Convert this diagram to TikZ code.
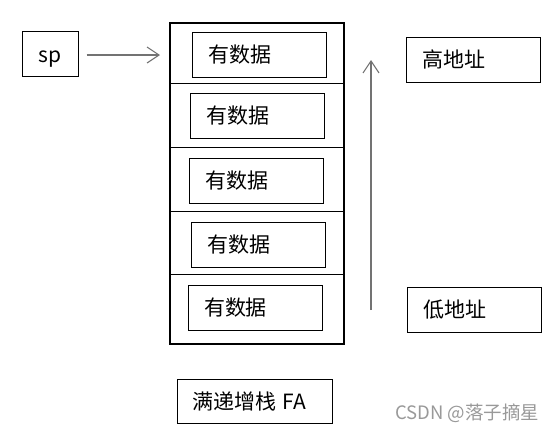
\documentclass[tikz,border=0pt]{standalone}
\usepackage{fontspec}
\setmainfont{Noto Sans CJK SC}
\usetikzlibrary{arrows.meta}
\begin{document}
\begin{tikzpicture}[x=1pt, y=-1pt, line width=1pt, font=\fontsize{21}{24}\selectfont,
  data box/.style={draw, minimum height=45pt, text width=102pt, inner xsep=16pt, inner ysep=0pt, align=left},
  arrow line/.style={draw=black!55, line width=1.3pt, -{Straight Barb[length=12pt, width=16pt, line width=1.1pt]}}]
\useasboundingbox (0,0) rectangle (558,434);
% stack and its slots
\node [draw, line width=2pt, minimum width=174pt, minimum height=321pt, inner sep=0pt](stack) at (257,183.5) {};
\foreach \y in {83,147,211,274}
  \draw (stack.west |- 0,\y) -- (stack.east |- 0,\y);
\node [data box](d1) at (259,54.5) {有数据};
\node [data box](d2) at (257,116) {有数据};
\node [data box](d3) at (256,180.5) {有数据};
\node [data box](d4) at (258.5,244.5) {有数据};
\node [data box](d5) at (255,308) {有数据};
% pointer and addresses
\node [draw, minimum width=56pt, minimum height=45pt, inner sep=0pt](sp) at (50,53.5) {\smash{\raisebox{-9pt}{sp}}};
\node [data box](high) at (473,59.5) {高地址};
\node [data box](low) at (474.5,309.5) {低地址};
\node [draw, minimum height=44pt, text width=125pt, inner xsep=15pt, inner ysep=0pt, align=left](title) at (254.5,401) {满递增栈 FA};
\coordinate (sptip) at (160,55);
\coordinate (upfoot) at (371,310);
\coordinate (uptip) at (371,60);
\path [arrow line, shorten <=8pt] (sp.east |- sptip) -- (sptip);
\path [arrow line] (upfoot) -- (uptip);
\node [text=black!40, font=\fontsize{18.5}{20}\selectfont, anchor=east](mark) at (543,413) {CSDN @落子摘星};
\end{tikzpicture}
\end{document}
